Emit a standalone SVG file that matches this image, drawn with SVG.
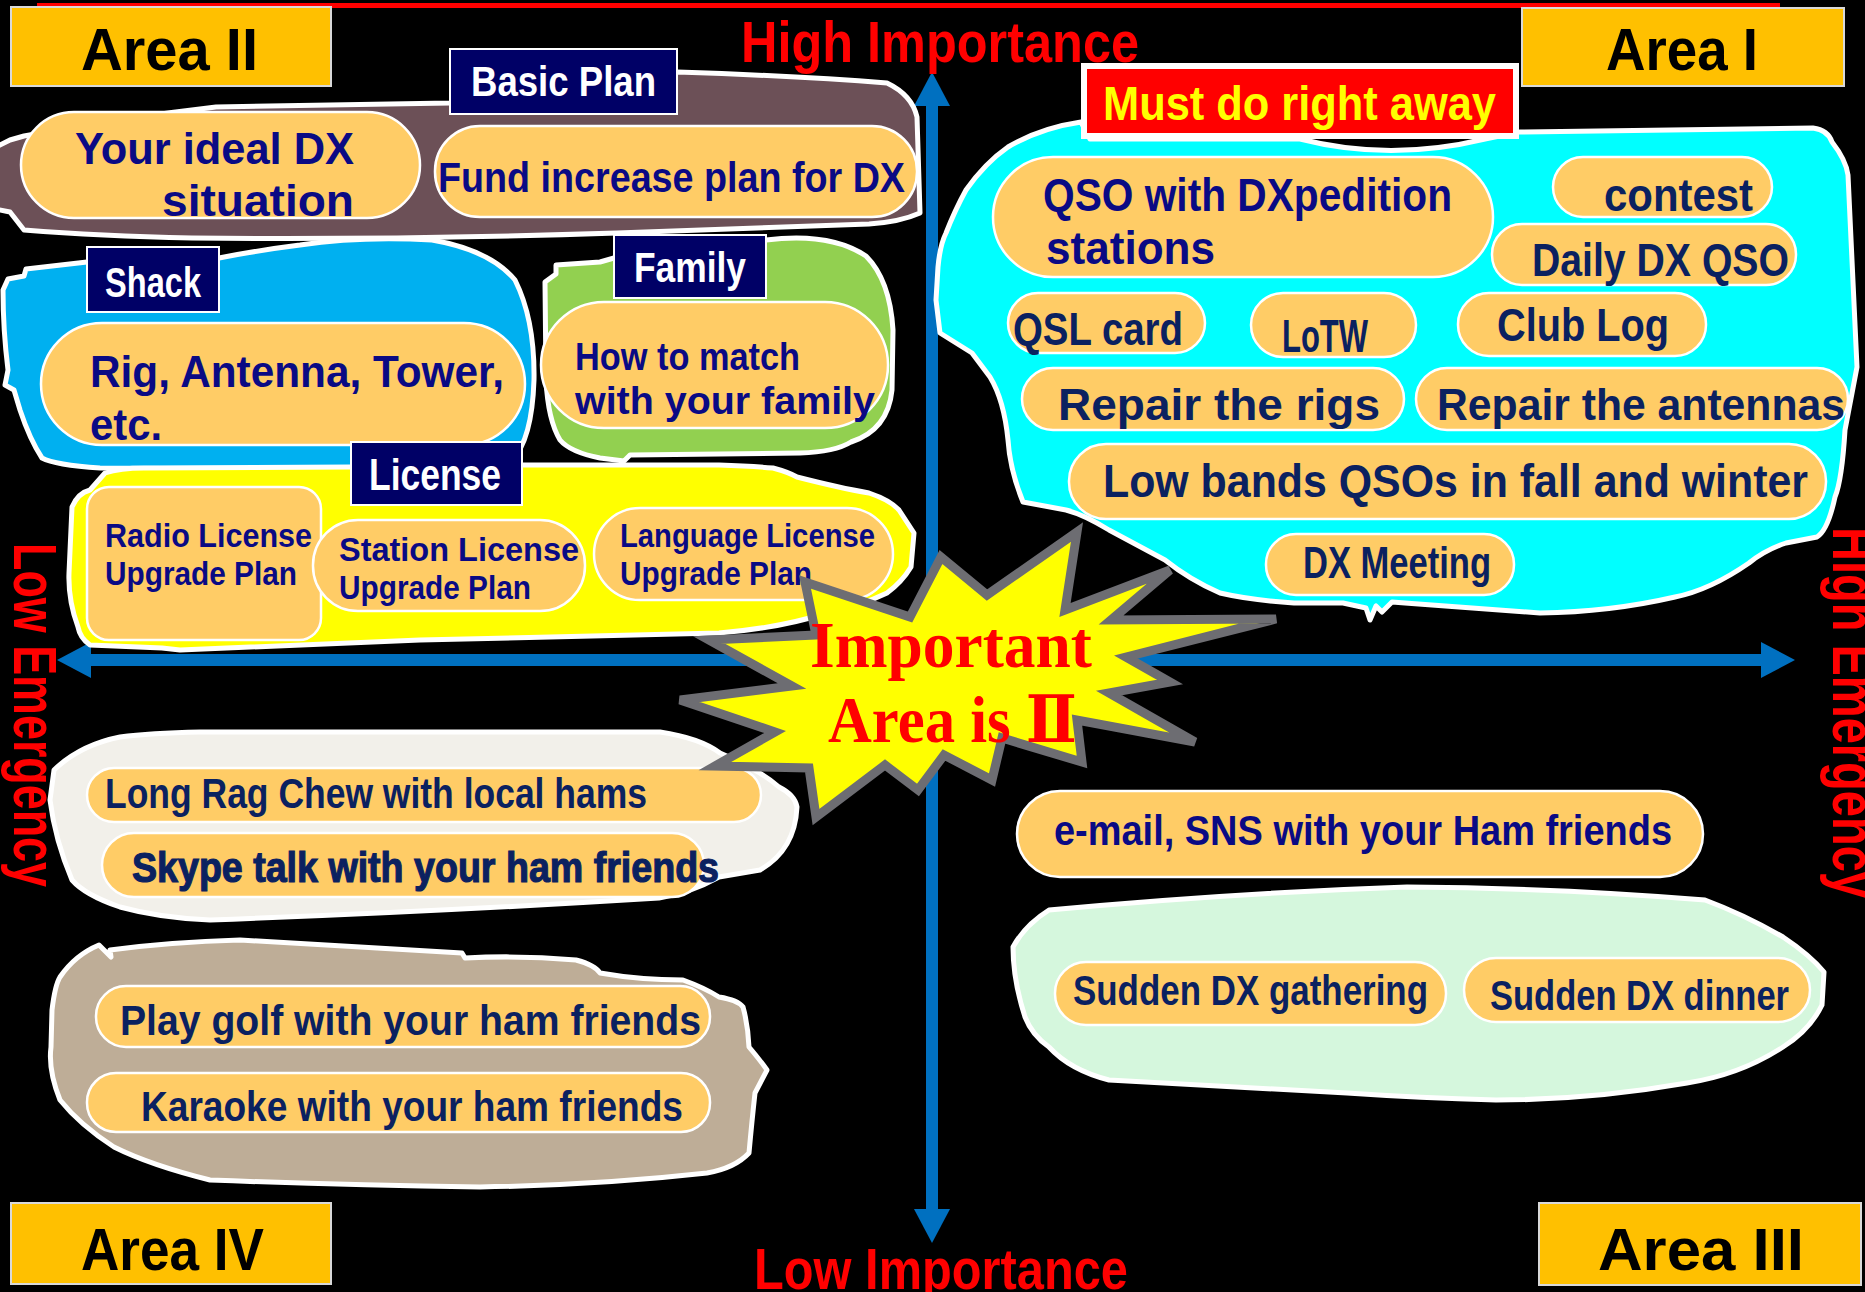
<svg xmlns="http://www.w3.org/2000/svg" width="1865" height="1292" viewBox="0 0 1865 1292">
<defs>
<style>
.pop{font-family:"Liberation Sans Narrow","Liberation Sans",Arial,sans-serif;font-weight:bold}
.nv{fill:#0a0a84}
.dk{fill:#0b2160}
.pill{fill:#FFCC66;stroke:#ffffff;stroke-width:2.5}
.lbl{fill:#000066;stroke:#ffffff;stroke-width:2}
.lt{fill:#ffffff}
.blob{stroke:#ffffff;stroke-width:5;stroke-linejoin:round}
.area{fill:#FFC000;stroke:#d9d9d9;stroke-width:2}
.axis{stroke:#0070C0;stroke-width:12;fill:none}
.red{fill:#FF0000}
</style>
<marker id="ah" viewBox="0 0 34 36" refX="0" refY="18" markerWidth="34" markerHeight="36" markerUnits="userSpaceOnUse" orient="auto-start-reverse">
<path d="M0,0 L34,18 L0,36 Z" fill="#0070C0"/>
</marker>
</defs>
<rect x="0" y="0" width="1865" height="1292" fill="#000000"/>
<rect x="37" y="3" width="1743" height="5" fill="#FF0000"/>

<g id="connectors">
<line class="axis" x1="932" y1="1209" x2="932" y2="106" marker-start="url(#ah)" marker-end="url(#ah)"/>
<line class="axis" x1="91" y1="660" x2="1761" y2="660" marker-start="url(#ah)" marker-end="url(#ah)"/>
</g>

<!-- Area II blobs -->
<g id="basic-plan">
<path class="blob" fill="#6C5057" d="M-10,150 L10,140 L24,136 Q120,118 216,107 L450,103 L677,72 Q800,76 887,83 Q912,95 917,117 L920,213 Q900,222 869,224 L617,233 Q400,240 192,238 Q100,236 24,230 L10,212 L-10,208 Z"/>
<rect class="lbl" x="450" y="49" width="227" height="65"/>
<text class="pop lt" x="471" y="96" font-size="42" textLength="185" lengthAdjust="spacingAndGlyphs">Basic Plan</text>
</g>
<g id="your-ideal">
<rect class="pill" x="21" y="112" width="399" height="106" rx="53"/>
<text class="pop nv" x="75" y="164" font-size="44" textLength="279" lengthAdjust="spacingAndGlyphs">Your ideal DX</text>
<text class="pop nv" x="162" y="216" font-size="44" textLength="192" lengthAdjust="spacingAndGlyphs">situation</text>
</g>
<g id="fund">
<rect class="pill" x="435" y="126" width="482" height="91" rx="45"/>
<text class="pop nv" x="438" y="192" font-size="42" textLength="467" lengthAdjust="spacingAndGlyphs">Fund increase plan for DX</text>
</g>

<g id="shack">
<path class="blob" fill="#00B0F0" d="M3,290 L8,279 L24,276 L26,269 L87,262 L219,258 Q260,250 300,245 Q360,236 432,240 Q490,250 515,280 Q535,320 534,380 Q532,440 512,460 L360,470 L100,468 Q55,465 42,458 Q30,440 20,410 L14,390 L5,385 L8,370 Q3,330 3,290 Z"/>
<rect class="lbl" x="87" y="247" width="132" height="65"/>
<text class="pop lt" x="105" y="297" font-size="42" textLength="96" lengthAdjust="spacingAndGlyphs">Shack</text>
</g>
<g id="rig">
<rect class="pill" x="41" y="323" width="484" height="122" rx="61"/>
<text class="pop nv" x="90" y="387" font-size="45" textLength="414" lengthAdjust="spacingAndGlyphs">Rig, Antenna, Tower,</text>
<text class="pop nv" x="90" y="440" font-size="45" textLength="72" lengthAdjust="spacingAndGlyphs">etc.</text>
</g>

<g id="family">
<path class="blob" fill="#92D050" d="M545,282 L556,274 L556,265 L600,262 L614,258 L766,240 Q830,232 866,256 Q890,280 893,330 L892,390 Q888,430 851,442 Q835,452 800,453 L630,455 L624,461 L600,458 Q570,452 560,440 Q548,420 546,380 Z"/>
<rect class="lbl" x="614" y="235" width="152" height="63"/>
<text class="pop lt" x="634" y="282" font-size="42" textLength="112" lengthAdjust="spacingAndGlyphs">Family</text>
</g>
<g id="how-to-match">
<rect class="pill" x="541" y="302" width="347" height="126" rx="63"/>
<text class="pop nv" x="575" y="370" font-size="38" textLength="225" lengthAdjust="spacingAndGlyphs">How to match</text>
<text class="pop nv" x="575" y="414" font-size="38" textLength="300" lengthAdjust="spacingAndGlyphs">with your family</text>
</g>

<g id="license">
<path class="blob" fill="#FFFF00" d="M72,507 Q78,493 90,490 L105,473 Q120,468 144,468 L351,467 L522,465 L719,465 Q750,466 773,468 Q788,472 797,477 Q840,488 869,493 Q890,500 899,510 L914,533 L911,567 Q902,582 887,593 Q860,606 827,613 Q780,628 719,633 L420,640 L180,650 L162,648 L90,645 Q80,638 78,627 Q68,600 69,573 Z"/>
<rect class="lbl" x="351" y="442" width="171" height="63"/>
<text class="pop lt" x="369" y="490" font-size="44" textLength="132" lengthAdjust="spacingAndGlyphs">License</text>
</g>
<g id="radio-license">
<rect class="pill" x="87" y="487" width="234" height="153" rx="22"/>
<text class="pop nv" x="105" y="547" font-size="33" textLength="207" lengthAdjust="spacingAndGlyphs">Radio License</text>
<text class="pop nv" x="105" y="585" font-size="33" textLength="192" lengthAdjust="spacingAndGlyphs">Upgrade Plan</text>
</g>
<g id="station-license">
<rect class="pill" x="313" y="520" width="272" height="91" rx="45"/>
<text class="pop nv" x="339" y="561" font-size="33" textLength="240" lengthAdjust="spacingAndGlyphs">Station License</text>
<text class="pop nv" x="339" y="599" font-size="33" textLength="192" lengthAdjust="spacingAndGlyphs">Upgrade Plan</text>
</g>
<g id="language-license">
<rect class="pill" x="594" y="508" width="299" height="92" rx="46"/>
<text class="pop nv" x="620" y="547" font-size="33" textLength="255" lengthAdjust="spacingAndGlyphs">Language License</text>
<text class="pop nv" x="620" y="585" font-size="33" textLength="192" lengthAdjust="spacingAndGlyphs">Upgrade Plan</text>
</g>

<!-- Area I -->
<g id="must-do">
<path class="blob" fill="#00FFFF" d="M1008,147 Q1040,128 1081,122 L1090,139 L1300,139 Q1390,162 1485,139 L1519,132 L1813,128 Q1828,130 1832,142 Q1846,160 1848,175 L1857,367 L1845,430 Q1842,480 1835,497 Q1828,530 1817,537 L1786,543 Q1765,550 1749,563 Q1710,590 1675,597 Q1610,612 1540,613 L1405,603 L1392,602 L1382,612 L1376,606 L1370,620 L1366,608 L1343,603 L1294,603 Q1250,600 1220,593 Q1190,580 1165,560 L1109,530 Q1085,515 1066,510 L1023,502 Q1010,470 1008,440 Q1004,400 990,377 L972,353 L940,333 L936,300 L938,267 Q940,245 946,233 Q955,210 966,190 Q985,163 1008,147 Z"/>
<rect x="1084" y="66" width="432" height="70" fill="#FF0000" stroke="#ffffff" stroke-width="6"/>
<text class="pop" fill="#FFFF00" x="1103" y="120" font-size="49" textLength="393" lengthAdjust="spacingAndGlyphs">Must do right away</text>
</g>
<g id="qso-dxpedition">
<rect class="pill" x="993" y="157" width="500" height="120" rx="60"/>
<text class="pop nv" x="1043" y="211" font-size="46" textLength="409" lengthAdjust="spacingAndGlyphs">QSO with DXpedition</text>
<text class="pop nv" x="1046" y="264" font-size="46" textLength="169" lengthAdjust="spacingAndGlyphs">stations</text>
</g>
<g id="contest">
<rect class="pill" x="1553" y="157" width="219" height="60" rx="30"/>
<text class="pop dk" x="1604" y="211" font-size="46" textLength="149" lengthAdjust="spacingAndGlyphs">contest</text>
</g>
<g id="daily-dx">
<rect class="pill" x="1492" y="224" width="304" height="61" rx="30"/>
<text class="pop dk" x="1532" y="276" font-size="46" textLength="257" lengthAdjust="spacingAndGlyphs">Daily DX QSO</text>
</g>
<g id="qsl-card">
<rect class="pill" x="1008" y="293" width="197" height="60" rx="30"/>
<text class="pop dk" x="1013" y="345" font-size="46" textLength="170" lengthAdjust="spacingAndGlyphs">QSL card</text>
</g>
<g id="lotw">
<rect class="pill" x="1251" y="293" width="165" height="64" rx="32"/>
<text class="pop dk" x="1282" y="352" font-size="46" textLength="86" lengthAdjust="spacingAndGlyphs">LoTW</text>
</g>
<g id="club-log">
<rect class="pill" x="1458" y="293" width="248" height="63" rx="31"/>
<text class="pop dk" x="1497" y="341" font-size="46" textLength="172" lengthAdjust="spacingAndGlyphs">Club Log</text>
</g>
<g id="repair-rigs">
<rect class="pill" x="1022" y="368" width="382" height="62" rx="31"/>
<text class="pop dk" x="1058" y="420" font-size="45" textLength="322" lengthAdjust="spacingAndGlyphs">Repair the rigs</text>
</g>
<g id="repair-antennas">
<rect class="pill" x="1416" y="368" width="432" height="62" rx="31"/>
<text class="pop dk" x="1437" y="420" font-size="45" textLength="408" lengthAdjust="spacingAndGlyphs">Repair the antennas</text>
</g>
<g id="low-bands">
<rect class="pill" x="1069" y="444" width="757" height="75" rx="37"/>
<text class="pop dk" x="1103" y="497" font-size="46" textLength="705" lengthAdjust="spacingAndGlyphs">Low bands QSOs in fall and winter</text>
</g>
<g id="dx-meeting">
<rect class="pill" x="1266" y="534" width="248" height="61" rx="30"/>
<text class="pop dk" x="1303" y="578" font-size="44" textLength="188" lengthAdjust="spacingAndGlyphs">DX Meeting</text>
</g>

<!-- Area III -->
<g id="email-sns">
<rect class="pill" x="1017" y="791" width="686" height="86" rx="43"/>
<text class="pop nv" x="1054" y="845" font-size="43" textLength="618" lengthAdjust="spacingAndGlyphs">e-mail, SNS with your Ham friends</text>
</g>
<g id="sudden">
<path class="blob" fill="#D5F7DD" d="M1049,910 Q1230,893 1407,887 Q1560,888 1705,900 Q1745,915 1783,937 Q1810,955 1824,972 L1822,1005 Q1810,1030 1783,1047 Q1740,1075 1687,1083 Q1590,1100 1496,1100 Q1420,1098 1347,1093 L1109,1080 Q1070,1070 1049,1047 Q1032,1035 1025,1017 Q1013,980 1013,947 Q1025,925 1049,910 Z"/>
</g>
<g id="sudden-gathering">
<rect class="pill" x="1055" y="962" width="391" height="63" rx="31"/>
<text class="pop dk" x="1073" y="1005" font-size="43" textLength="355" lengthAdjust="spacingAndGlyphs">Sudden DX gathering</text>
</g>
<g id="sudden-dinner">
<rect class="pill" x="1464" y="958" width="346" height="64" rx="32"/>
<text class="pop dk" x="1490" y="1010" font-size="43" textLength="299" lengthAdjust="spacingAndGlyphs">Sudden DX dinner</text>
</g>

<!-- Area IV -->
<g id="rag-chew">
<path class="blob" fill="#F2F0EA" d="M54,770 Q80,745 120,737 Q150,733 200,732 L660,732 Q700,738 720,753 Q760,770 779,787 Q795,795 797,807 Q795,850 760,870 L719,877 Q690,893 659,898 Q430,912 210,920 Q160,918 120,907 Q85,895 72,880 Q55,840 50,800 Z"/>
</g>
<g id="long-rag">
<rect class="pill" x="87" y="768" width="674" height="54" rx="27"/>
<text class="pop dk" x="105" y="808" font-size="42" textLength="542" lengthAdjust="spacingAndGlyphs">Long Rag Chew with local hams</text>
</g>
<g id="skype">
<rect class="pill" x="102" y="833" width="602" height="64" rx="32"/>
<text class="pop dk" x="132" y="882" font-size="42" stroke="#0b2160" stroke-width="1.2" textLength="587" lengthAdjust="spacingAndGlyphs">Skype talk with your ham friends</text>
</g>
<g id="golf-karaoke">
<path class="blob" fill="#BEAD97" d="M99,945 L111,957 L110,950 Q170,942 240,940 L462,953 L465,958 Q520,955 576,960 Q595,965 600,973 Q640,980 683,980 Q705,988 719,997 Q738,1000 743,1007 Q748,1025 749,1047 Q760,1060 767,1070 L755,1093 Q752,1120 749,1153 Q735,1168 707,1173 Q600,1185 480,1187 Q340,1185 210,1180 Q150,1165 114,1147 Q80,1125 60,1100 Q48,1070 51,1047 L52,1010 Q55,985 60,977 Q75,955 99,945 Z"/>
</g>
<g id="golf">
<rect class="pill" x="96" y="986" width="614" height="61" rx="30"/>
<text class="pop dk" x="120" y="1035" font-size="42" textLength="581" lengthAdjust="spacingAndGlyphs">Play golf with your ham friends</text>
</g>
<g id="karaoke">
<rect class="pill" x="87" y="1073" width="623" height="59" rx="29"/>
<text class="pop dk" x="141" y="1121" font-size="42" textLength="542" lengthAdjust="spacingAndGlyphs">Karaoke with your ham friends</text>
</g>

<!-- Area boxes -->
<g id="area-2"><rect class="area" x="11" y="7" width="320" height="79"/><text class="pop" fill="#000" x="81" y="70" font-size="60" textLength="177" lengthAdjust="spacingAndGlyphs">Area II</text></g>
<g id="area-1"><rect class="area" x="1522" y="8" width="322" height="78"/><text class="pop" fill="#000" x="1606" y="70" font-size="60" textLength="152" lengthAdjust="spacingAndGlyphs">Area I</text></g>
<g id="area-4"><rect class="area" x="11" y="1203" width="320" height="81"/><text class="pop" fill="#000" x="81" y="1270" font-size="60" textLength="183" lengthAdjust="spacingAndGlyphs">Area IV</text></g>
<g id="area-3"><rect class="area" x="1539" y="1203" width="322" height="82"/><text class="pop" fill="#000" x="1598" y="1270" font-size="60" textLength="206" lengthAdjust="spacingAndGlyphs">Area III</text></g>

<!-- Axis labels -->
<g id="axis-labels">
<text class="pop red" x="741" y="62" font-size="58" textLength="398" lengthAdjust="spacingAndGlyphs">High Importance</text>
<text class="pop red" x="754" y="1289" font-size="58" textLength="374" lengthAdjust="spacingAndGlyphs">Low Importance</text>
<text class="red" font-family="Liberation Sans,Arial,sans-serif" font-weight="bold" font-size="62" transform="translate(14,543) rotate(90)" textLength="344" lengthAdjust="spacingAndGlyphs">Low Emergency</text>
<text class="red" font-family="Liberation Sans,Arial,sans-serif" font-weight="bold" font-size="62" transform="translate(1833,527) rotate(90)" textLength="371" lengthAdjust="spacingAndGlyphs">High Emergency</text>
</g>

<!-- Starburst -->
<g id="important">
<polygon points="1077,532 1065,610 1170,570 1111,620 1276,619 1126,657 1170,682 1109,693 1195,742 1077,720 1082,762 1002,738 992,780 944,755 918,790 885,765 816,817 809,768 715,766 775,732 680,700 792,686 709,640 816,635 805,582 910,617 941,557 987,595" fill="#FFFF00" stroke="#6D6D72" stroke-width="9" stroke-linejoin="miter"/>
<text class="red" font-family="Liberation Serif,Times New Roman,serif" font-weight="bold" font-size="66" x="810" y="667" textLength="282" lengthAdjust="spacingAndGlyphs">Important</text>
<text class="red" font-family="Liberation Serif,DejaVu Serif,serif" font-weight="bold" font-size="66" x="828" y="742" textLength="249" lengthAdjust="spacingAndGlyphs">Area is Ⅱ</text>
</g>
</svg>
